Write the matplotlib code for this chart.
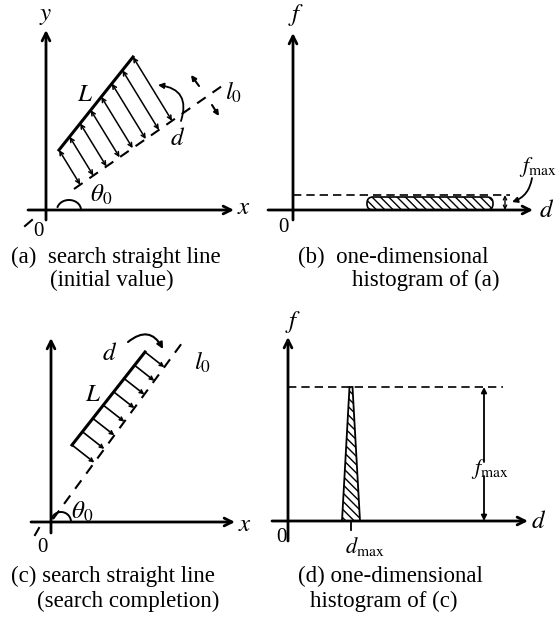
import numpy as np
import matplotlib
matplotlib.use("Agg")
import matplotlib.pyplot as plt
from matplotlib.patches import Polygon, FancyBboxPatch

plt.rcParams["mathtext.fontset"] = "stix"
plt.rcParams["hatch.linewidth"] = 1.0
SERIF = "Liberation Serif"

# ---------------- data (diagram geometry, pixel units) ----------------
# panel (a): search line L (initial value) and reference line l0
a_origin = (46, 210)
a_L = [(59, 150), (133, 57)]
a_l0 = [(74, 189), (222, 86)]
a_n_arrows = 8
a_arrow_dir = (0.52, 0.85)

# panel (b): flat histogram of (a)
b_origin = (293, 210)
b_hist_d = [367, 493]          # d range of spread histogram
b_hist_f = 13                  # its (low) height f_max
b_dash_end = 510

# panel (c): search line after completion (parallel to l0)
c_origin = (51, 522)
c_L = [(72, 445), (145, 352)]
c_l0 = [(53, 519), (182, 343)]
c_n_arrows = 8

# panel (d): peaked histogram of (c)
d_origin = (288, 521)
d_peak = 351                   # d_max
d_half_width = 9
d_fmax = 134                   # peak height
d_dash_end = 503
d_fmax_arrow_x = 484

captions = [
    ("(a)  search straight line", 11, 257), ("(initial value)", 50, 280),
    ("(b)  one-dimensional", 298, 257), ("histogram of (a)", 352, 280),
    ("(c) search straight line", 11, 576), ("(search completion)", 37, 601),
    ("(d) one-dimensional", 298, 576), ("histogram of (c)", 310, 601),
]

W, H = 560, 617
fig = plt.figure(figsize=(W / 100, H / 100), dpi=100)
ax = fig.add_axes([0, 0, 1, 1])
ax.set_xlim(0, W)
ax.set_ylim(H, 0)
ax.axis("off")


def arrow(p0, p1, style="->", lw=2.0, ms=14, ls="-", rad=0.0):
    ax.annotate("", xy=p1, xytext=p0,
                arrowprops=dict(arrowstyle=style, lw=lw, color="black",
                                mutation_scale=ms, linestyle=ls,
                                shrinkA=0, shrinkB=0,
                                connectionstyle=f"arc3,rad={rad}"))


def label(x, y, s, size=17, ha="center", va="center", **kw):
    ax.text(x, y, s, fontsize=size, ha=ha, va=va, family=SERIF, **kw)


def intersect(p, u, q0, q1):
    p = np.array(p, float); u = np.array(u, float)
    q0 = np.array(q0, float); v = np.array(q1, float) - q0
    A = np.array([u, -v]).T
    t, s = np.linalg.solve(A, q0 - p)
    return p + t * u


def theta_arc(cx, cy, r, ry):
    t = np.linspace(0, np.pi * 0.9, 30)
    ax.plot(cx + r * np.cos(t), cy - ry * np.sin(t), color="black", lw=1.4)


# ---------------- panel (a) ----------------
ox, oy = a_origin
arrow((ox, oy + 10), (ox, 30))
arrow((ox - 18, oy), (ox + 188, oy))
label(ox, 16, "$y$", 18)
label(ox + 198, oy - 2, "$x$", 18)
label(ox - 8, oy + 22, "0", 15)
ax.plot([25, 32], [226, 220], color="black", lw=1.5)
ax.plot(*zip(*a_L), color="black", lw=2.2)
ax.plot(*zip(*a_l0), color="black", lw=1.5, ls=(0, (5, 4)))
for t in np.linspace(0, 1, a_n_arrows):
    p = np.array(a_L[0]) + t * (np.array(a_L[1]) - np.array(a_L[0]))
    q = intersect(p, a_arrow_dir, *a_l0)
    arrow(tuple(p), tuple(q), style="<->", lw=1.1, ms=7)
arrow((181, 121), (158, 85), style="-|>", lw=1.3, ms=8, rad=0.6)
arrow((199, 86), (191, 75), style="-|>", lw=1.5, ms=7)
arrow((212, 105), (219, 116), style="-|>", lw=1.5, ms=7)
label(85, 95, "$L$", 18)
label(178, 139, "$d$", 18)
label(234, 92, "$l_0$", 18)
label(101, 195, r"$\theta_0$", 18)
theta_arc(69, 210, 12, 10)

# ---------------- panel (b) ----------------
ox, oy = b_origin
arrow((ox, oy + 10), (ox, 33))
arrow((ox - 25, oy), (ox + 240, oy))
label(ox + 3, 15, "$f$", 18)
label(ox + 254, oy + 1, "$d$", 18)
label(ox - 10, oy + 17, "0", 15)
box = FancyBboxPatch((b_hist_d[0], oy - b_hist_f), b_hist_d[1] - b_hist_d[0],
                     b_hist_f, boxstyle="round,pad=0,rounding_size=6",
                     facecolor="white", edgecolor="black", hatch="\\\\\\\\", lw=1.2)
ax.add_patch(box)
ax.plot([ox, b_dash_end], [oy - b_hist_f - 2, oy - b_hist_f - 2], color="black",
        lw=1.2, ls=(0, (5, 3)))
arrow((505, oy - b_hist_f - 2), (505, oy), style="<->", lw=1.0, ms=6)
label(538, 167, r"$f_{\rm max}$", 16)
arrow((532, 178), (512, 202), style="-|>", lw=1.3, ms=8, rad=-0.3)

# ---------------- panel (c) ----------------
ox, oy = c_origin
arrow((ox, oy + 11), (ox, 338))
arrow((ox - 20, oy), (ox + 184, oy))
label(ox + 194, oy + 3, "$x$", 18)
label(ox - 9, oy + 25, "0", 15)
ax.plot([35, 39], [535, 528], color="black", lw=1.5)
ax.plot(*zip(*c_l0), color="black", lw=1.5, ls=(0, (5, 4)))
ax.plot(*zip(*c_L), color="black", lw=2.2)
Ld = np.array(c_L[1], float) - np.array(c_L[0], float)
perp = np.array([-Ld[1], Ld[0]]) / np.hypot(*Ld)
for t in np.linspace(0, 1, c_n_arrows):
    p = np.array(c_L[0]) + t * Ld
    q = intersect(p, perp, *c_l0)
    arrow(tuple(p), tuple(q), style="->", lw=1.2, ms=6)
arrow((128, 342), (163, 349), style="-|>", lw=1.5, ms=9, rad=-0.6)
label(110, 354, "$d$", 18)
label(203, 362, "$l_0$", 18)
label(93, 395, "$L$", 18)
label(82, 512, r"$\theta_0$", 18)
theta_arc(61, 522, 10, 10)

# ---------------- panel (d) ----------------
ox, oy = d_origin
arrow((ox, oy + 20), (ox, 337))
arrow((ox - 16, oy), (ox + 240, oy))
label(ox + 5, 322, "$f$", 18)
label(ox + 251, oy + 1, "$d$", 18)
label(ox - 7, oy + 16, "0", 15)
tri = Polygon([(d_peak - d_half_width, oy), (d_peak - 1.5, oy - d_fmax),
               (d_peak + 1.5, oy - d_fmax), (d_peak + d_half_width, oy)],
              closed=True, facecolor="white", edgecolor="black",
              hatch="\\\\\\\\", lw=1.3)
ax.add_patch(tri)
ax.plot([d_peak, d_peak], [oy, oy + 9], color="black", lw=1.3)
label(d_peak + 14, oy + 25, r"$d_{\rm max}$", 16)
ax.plot([ox, d_dash_end], [oy - d_fmax, oy - d_fmax], color="black",
        lw=1.2, ls=(0, (5, 3)))
fx = d_fmax_arrow_x
arrow((fx, oy - d_fmax / 2 + 8), (fx, oy - d_fmax), style="-|>", lw=1.3, ms=8)
arrow((fx, oy - d_fmax / 2 + 22), (fx, oy), style="-|>", lw=1.3, ms=8)
label(fx + 6, oy - d_fmax / 2 + 15, r"$f_{\rm max}$", 16)

for s, x, y in captions:
    label(x, y, s, 16.5, ha="left")

fig.savefig("out.png", dpi=100, facecolor="white")
